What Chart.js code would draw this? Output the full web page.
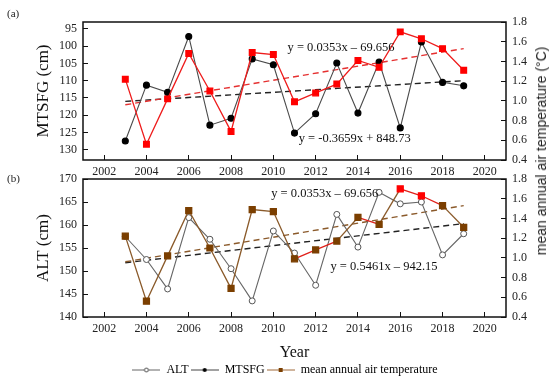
<!DOCTYPE html>
<html lang="en">
<head>
<meta charset="UTF-8">
<title>MTSFG and ALT vs mean annual air temperature</title>
<script src="https://cdn.jsdelivr.net/npm/chart.js"></script>
<style>
  body { margin: 0; background: #fff; font-family: "Liberation Serif", "Times New Roman", serif; }
  #wrap { position: relative; width: 550px; height: 389px; overflow: hidden; }
  canvas { position: absolute; left: 0; }
  #chartA { top: 0; }
  #chartB { top: 160px; }
  .tag { position: absolute; left: 7px; font-size: 11px; color: #222; line-height: 1; }
  #tempTitle { position: absolute; left: 541px; top: 151px; transform: translate(-50%, -50%) rotate(-90deg);
    white-space: nowrap; font: 14px "Liberation Sans", Arial, sans-serif; color: #222; }
</style>
</head>
<body>
<div id="wrap">
  <canvas id="chartA" width="550" height="180"></canvas>
  <canvas id="chartB" width="550" height="229"></canvas>
  <div class="tag" style="top:8px">(a)</div>
  <div class="tag" style="top:173px">(b)</div>
  <div id="tempTitle">mean annual air temperature (°C)</div>
</div>
<script>
  // values
  const years = [2003, 2004, 2005, 2006, 2007, 2008, 2009, 2010, 2011, 2012, 2013, 2014, 2015, 2016, 2017, 2018, 2019];
  const mtsfg = [127.5, 111.3, 113.4, 97.2, 122.9, 120.9, 103.7, 105.4, 125.2, 119.6, 104.9, 119.4, 104.6, 123.7, 98.8, 110.5, 111.5];
  const alt = [157.5, 152.5, 146.1, 161.6, 156.9, 150.5, 143.5, 158.7, 153.9, 146.9, 162.3, 155.2, 167.1, 164.6, 165.0, 153.5, 158.1];
  const airTemp = [1.22, 0.56, 1.02, 1.48, 1.10, 0.69, 1.49, 1.47, 0.99, 1.08, 1.17, 1.41, 1.34, 1.70, 1.63, 1.53, 1.31];

  // fitted trend lines, end points
  const trendYears = [2003, 2019];
  const mtsfgTrend = [116.0, 110.0];
  const altTrend = [151.8, 160.3];
  const tempTrend = [0.96, 1.53];

  const xTicks = [2002, 2004, 2006, 2008, 2010, 2012, 2014, 2016, 2018, 2020];
  const mtsfgTicks = [95, 100, 105, 110, 115, 120, 125, 130];
  const altTicks = [140, 145, 150, 155, 160, 165, 170];
  const tempTicks = [0.4, 0.6, 0.8, 1.0, 1.2, 1.4, 1.6, 1.8];

  const eqTemp = 'y = 0.0353x \u2013 69.656';
  const eqMtsfg = 'y = -0.3659x + 848.73';
  const eqAlt = 'y = 0.5461x \u2013 942.15';
  const legendNames = ['ALT', 'MTSFG', 'mean annual air temperature'];

  const serif = '"Liberation Serif", "Times New Roman", serif';
  const pts = (xs, ys) => xs.map((x, i) => ({ x, y: ys[i] }));

  // box around plot area + equation labels
  const framePlugin = {
    id: 'frame',
    afterDraw(chart, args, opts) {
      const { ctx, chartArea: a, scales } = chart;
      ctx.save();
      ctx.strokeStyle = '#111';
      ctx.lineWidth = 1.5;
      ctx.strokeRect(a.left, a.top, a.right - a.left, a.bottom - a.top);
      ctx.font = '12.5px ' + serif;
      ctx.fillStyle = '#111';
      ctx.textBaseline = 'middle';
      (opts.notes || []).forEach(n => {
        ctx.fillText(n.text, scales.x.getPixelForValue(n.x), scales.y1.getPixelForValue(n.y));
      });
      ctx.restore();
    }
  };

  function xScale(title) {
    return {
      type: 'linear', min: 2001, max: 2021,
      afterBuildTicks: s => { s.ticks = xTicks.map(v => ({ value: v })); },
      afterFit: s => { s.height = title ? 45 : 20; },
      border: { display: false },
      grid: { drawOnChartArea: false, color: '#111', tickLength: -5 },
      ticks: { padding: 10, color: '#222', font: { family: serif, size: 12 }, callback: v => String(v) },
      title: { display: !!title, text: title || '', color: '#111', font: { family: serif, size: 16 }, padding: { top: 0, bottom: 0 } }
    };
  }

  function leftScale(min, max, ticks, title, reverse) {
    return {
      type: 'linear', position: 'left', min, max, reverse,
      afterBuildTicks: s => { s.ticks = ticks.map(v => ({ value: v })); },
      afterFit: s => { s.width = 63; },
      border: { display: false },
      grid: { drawOnChartArea: false, color: '#111', tickLength: -5 },
      ticks: { padding: 11, color: '#222', font: { family: serif, size: 12 }, callback: v => String(v) },
      title: { display: true, text: title, color: '#111', font: { family: serif, size: 17 }, padding: { top: 13, bottom: 0 } }
    };
  }

  function rightScale() {
    return {
      type: 'linear', position: 'right', min: 0.4, max: 1.8,
      afterBuildTicks: s => { s.ticks = tempTicks.map(v => ({ value: v })); },
      afterFit: s => { s.width = 44; },
      border: { display: false },
      grid: { drawOnChartArea: false, color: '#111', tickLength: -5 },
      ticks: { padding: 11, color: '#222', font: { family: serif, size: 12 }, callback: v => v.toFixed(1) }
    };
  }

  function trend(ys, color, axis) {
    return {
      data: pts(trendYears, ys), yAxisID: axis, borderColor: color, borderWidth: 1.4,
      borderDash: [6, 4], pointRadius: 0, order: 3
    };
  }

  // (a) MTSFG
  new Chart(document.getElementById('chartA'), {
    type: 'line',
    data: {
      datasets: [
        { data: pts(years, airTemp), yAxisID: 'y1', borderColor: '#ee1c1c', borderWidth: 1.3,
          pointStyle: 'rect', pointRadius: 4, pointBackgroundColor: '#ff0000', pointBorderColor: '#ff0000', order: 0 },
        { data: pts(years, mtsfg), yAxisID: 'y', borderColor: '#4a4a4a', borderWidth: 1.1,
          pointRadius: 3, pointBackgroundColor: '#000', pointBorderColor: '#000', order: 1 },
        trend(tempTrend, '#e53030', 'y1'),
        trend(mtsfgTrend, '#222', 'y')
      ]
    },
    options: {
      responsive: false, animation: false, devicePixelRatio: 1,
      layout: { padding: { top: 22, left: 20, right: 0, bottom: 0 } },
      scales: { x: xScale(null), y: leftScale(93, 133, mtsfgTicks, 'MTSFG (cm)', true), y1: rightScale() },
      plugins: {
        legend: { display: false }, tooltip: { enabled: false },
        frame: { notes: [{ text: eqTemp, x: 2010.67, y: 1.54 }, { text: eqMtsfg, x: 2011.2, y: 0.62 }] }
      }
    },
    plugins: [framePlugin]
  });

  // legend symbols: line with marker
  function icon(line, mark) {
    const c = document.createElement('canvas');
    c.width = 28; c.height = 10;
    const g = c.getContext('2d');
    g.strokeStyle = line; g.lineWidth = 1;
    g.beginPath(); g.moveTo(0, 5); g.lineTo(28, 5); g.stroke();
    mark(g);
    return c;
  }
  const icons = [
    icon('#666', g => { g.fillStyle = '#fff'; g.strokeStyle = '#555'; g.beginPath(); g.arc(14, 5, 2, 0, Math.PI * 2); g.fill(); g.stroke(); }),
    icon('#444', g => { g.fillStyle = '#000'; g.beginPath(); g.arc(14, 5, 2, 0, Math.PI * 2); g.fill(); }),
    icon('#a06a3a', g => { g.fillStyle = '#7b3f00'; g.fillRect(12, 3, 4, 4); })
  ];

  const redSegs = [8, 9, 11, 13, 14];
  const redPts = [13, 14];

  // (b) ALT
  new Chart(document.getElementById('chartB'), {
    type: 'line',
    data: {
      datasets: [
        { data: pts(years, airTemp), yAxisID: 'y1', borderWidth: 1.3, borderColor: '#8a5a2a',
          segment: { borderColor: c => redSegs.includes(c.p0DataIndex) ? '#e0201a' : '#8a5a2a' },
          pointStyle: 'rect', pointRadius: 4.2,
          pointBackgroundColor: years.map((y, i) => redPts.includes(i) ? '#ff0000' : '#7b3f00'),
          pointBorderColor: years.map((y, i) => redPts.includes(i) ? '#ff0000' : '#7b3f00'), order: 0 },
        { data: pts(years, alt), yAxisID: 'y', borderColor: '#666', borderWidth: 1.1,
          pointRadius: 3, pointBackgroundColor: '#fff', pointBorderColor: '#555', pointBorderWidth: 1, order: 1 },
        trend(tempTrend, '#8b5a2b', 'y1'),
        trend(altTrend, '#222', 'y')
      ]
    },
    options: {
      responsive: false, animation: false, devicePixelRatio: 1,
      layout: { padding: { top: 19, left: 20, right: 0, bottom: 3 } },
      scales: { x: xScale('Year'), y: leftScale(140, 170, altTicks, 'ALT (cm)', false), y1: rightScale() },
      plugins: {
        tooltip: { enabled: false },
        legend: {
          position: 'bottom', onClick: () => {},
          labels: {
            usePointStyle: true, pointStyleWidth: 28, padding: 2, color: '#222',
            font: { family: serif, size: 12 },
            generateLabels: () => legendNames.map((text, i) => ({
              text, pointStyle: icons[i], fillStyle: 'transparent', strokeStyle: 'transparent',
              lineWidth: 0, hidden: false, datasetIndex: i
            }))
          }
        },
        frame: { notes: [{ text: eqTemp, x: 2009.9, y: 1.65 }, { text: eqAlt, x: 2012.7, y: 0.91 }] }
      }
    },
    plugins: [framePlugin]
  });
</script>
</body>
</html>
